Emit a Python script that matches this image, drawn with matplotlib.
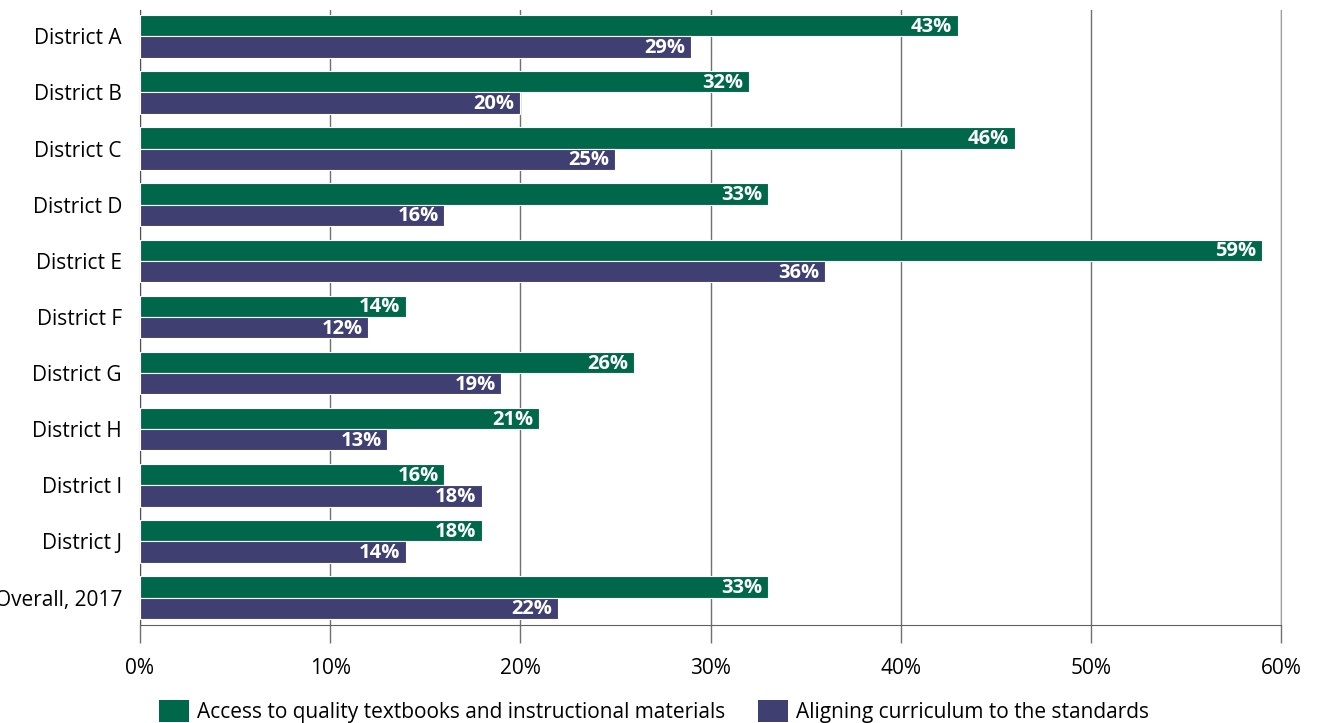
import numpy as np
import matplotlib.pyplot as plt
from matplotlib.patches import Patch

plt.rcParams['font.family'] = ['Open Sans', 'DejaVu Sans']

districts = ['District A', 'District B', 'District C', 'District D', 'District E',
             'District F', 'District G', 'District H', 'District I', 'District J',
             'Overall, 2017']
materials = [43, 32, 46, 33, 59, 14, 26, 21, 16, 18, 33]
curriculum = [29, 20, 25, 16, 36, 12, 19, 13, 18, 14, 22]

green = '#00684A'
purple = '#403F71'

fig = plt.figure(figsize=(13.19, 7.23), dpi=100)
ax = fig.add_axes([140 / 1319, 1 - 625 / 723, 1141 / 1319, 615 / 723])

y = np.arange(len(districts))
h = 0.38
ax.barh(y - h / 2, materials, height=h, color=green, edgecolor='white', linewidth=0.8, zorder=3)
ax.barh(y + h / 2, curriculum, height=h, color=purple, edgecolor='white', linewidth=0.8, zorder=3)

# value labels sit inside the bar ends
for yi, v in zip(y, materials):
    ax.text(v - 0.3, yi - h / 2 + 0.02, f'{v}%', ha='right', va='center',
            color='white', fontsize=14.5, fontweight='bold', zorder=4)
for yi, v in zip(y, curriculum):
    ax.text(v - 0.3, yi + h / 2 + 0.02, f'{v}%', ha='right', va='center',
            color='white', fontsize=14.5, fontweight='bold', zorder=4)

ax.set_xlim(0, 60)
ax.set_ylim(10.49, -0.47)
ax.set_xticks(range(0, 61, 10))
ax.set_xticklabels([f'{t}%' for t in range(0, 61, 10)], fontsize=15)
ax.set_yticks(y)
ax.set_yticklabels(districts, fontsize=15)
ax.tick_params(axis='y', length=0, pad=13)
ax.tick_params(axis='x', length=13, width=1, color='#707070', pad=11)

ax.grid(axis='x', color='#707070', linewidth=1, zorder=0)
ax.spines['top'].set_visible(False)
ax.spines['right'].set_color('#a0a0a0')
ax.spines['left'].set_color('#505050')
ax.spines['bottom'].set_color('#606060')

handles = [Patch(facecolor=green, label='Access to quality textbooks and instructional materials'),
           Patch(facecolor=purple, label='Aligning curriculum to the standards')]
fig.legend(handles=handles, loc='lower left', bbox_to_anchor=(140 / 1319, -0.026), ncol=2,
           frameon=False, fontsize=15, handlelength=1.45, handleheight=1.3,
           handletextpad=0.4, columnspacing=1.55)

fig.savefig('out.png', dpi=100)
